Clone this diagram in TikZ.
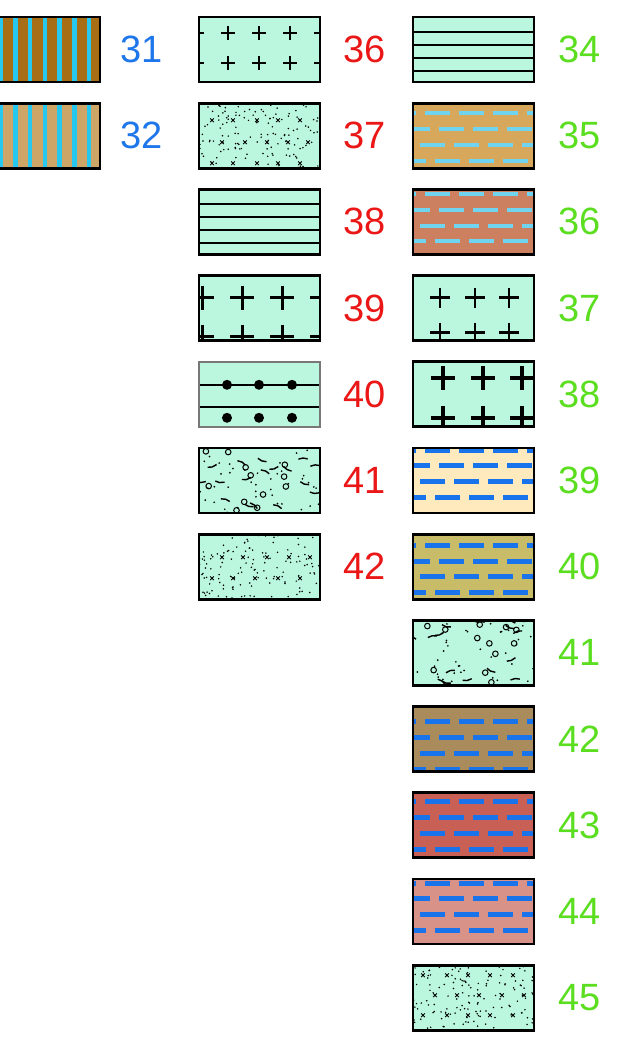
\documentclass[tikz,border=0pt]{standalone}
\usepackage{fontspec}
\setmainfont{Liberation Sans}
\definecolor{mint}{RGB}{186,247,222}
\definecolor{brownA}{RGB}{168,110,22}
\definecolor{tanA}{RGB}{205,165,102}
\definecolor{stripecyan}{RGB}{38,200,240}
\definecolor{tanB}{RGB}{215,168,92}
\definecolor{terra}{RGB}{205,128,95}
\definecolor{cream}{RGB}{255,234,190}
\definecolor{olive}{RGB}{200,188,105}
\definecolor{brownB}{RGB}{170,140,92}
\definecolor{redfill}{RGB}{200,96,86}
\definecolor{pinkfill}{RGB}{216,146,136}
\definecolor{lightdash}{RGB}{112,212,240}
\definecolor{bluedash}{RGB}{25,115,235}
\definecolor{lblblue}{RGB}{30,118,235}
\definecolor{lblred}{RGB}{235,22,22}
\definecolor{lblgreen}{RGB}{92,222,32}
\definecolor{framegray}{RGB}{120,120,120}
\tikzset{
  boxframe/.style={draw=black, line width=2.8pt, minimum width=121pt, minimum height=65pt, inner sep=0pt, outer sep=0pt, anchor=north west},
  lbl/.style={font=\fontsize{38}{40}\selectfont, inner sep=0pt},
  hline/.style={line width=2pt},
  pluslw/.style={line width=#1, line cap=butt},
}
% #1 extra frame style, #2 name, #3 x0, #4 y0, #5 fill, #6 pattern code
\newcommand\lgbox[6][]{%
  \fill[#5] (#3,#4) rectangle ++(121,65);
  \begin{scope}
    \clip (#3,#4) rectangle ++(121,65);
    \begin{scope}[shift={(#3,#4)}]
      #6
    \end{scope}
  \end{scope}
  \node[boxframe,#1] (#2) at (#3,#4) {};
}
% dash rows: #1 first row y, #2 colour, #3 line width
\newcommand\dashrows[3]{%
  \foreach \r/\o in {0/12,1/26,2/7,3/22}{
    \foreach \k in {-1,...,3}{
      \draw[#2, line width=#3] ({\o+34*\k},{#1+15.8*\r}) -- ++(25,0);
    }
  }
}
\newcommand\stripes{%
  \foreach \k in {-1,...,7}{
    \fill[stripecyan] ({21.5+14.75*\k-2.25},-1) rectangle ++(4.5,67);
  }
}
\newcommand\plusmark[3]{% x, y, half arm
  \draw (#1-#3,#2) -- (#1+#3,#2) (#1,#2-#3) -- (#1,#2+#3);
}
\newcommand\xmark[2]{%
  \draw[line width=0.8pt] (#1-1.8,#2-1.8) -- (#1+1.8,#2+1.8) (#1-1.8,#2+1.8) -- (#1+1.8,#2-1.8);
}
\newcommand\randdots[2]{% seed, count
  \pgfmathsetseed{#1}
  \foreach \i in {1,...,#2}{
    \pgfmathsetmacro\px{rnd*123-1}
    \pgfmathsetmacro\py{rnd*67-1}
    \fill (\px,\py) circle[radius=0.85];
  }
}
\newcommand\mixed[1]{% seed
  \pgfmathsetseed{#1}
  \foreach \i in {1,...,12}{
    \pgfmathsetmacro\px{rnd*121}
    \pgfmathsetmacro\py{rnd*65}
    \draw[line width=1pt] (\px,\py) circle[radius=2.8];
  }
  \foreach \i in {1,...,18}{
    \pgfmathsetmacro\px{rnd*121}
    \pgfmathsetmacro\py{rnd*65}
    \pgfmathsetmacro\pa{rnd*70-35+180*round(rnd)}
    \draw[line width=1.4pt] (\px,\py) -- ++(\pa:5) -- ++(\pa+25:4.5);
  }
  \foreach \i in {1,...,40}{
    \pgfmathsetmacro\px{rnd*121}
    \pgfmathsetmacro\py{rnd*65}
    \fill (\px,\py) circle[radius=0.95];
  }
}
\begin{document}
\begin{tikzpicture}[x=1pt,y=-1pt]
\useasboundingbox (0,0) rectangle (631,1037);
\fill[white] (0,0) rectangle (631,1037);

% ---------------- left column ----------------
\lgbox{bL31}{-21}{17}{brownA}{\stripes}
\node[lbl, text=lblblue] (tL31) at (142,49.5) {31};
\lgbox{bL32}{-21}{103.2}{tanA}{\stripes}
\node[lbl, text=lblblue] (tL32) at (142,135.7) {32};

% ---------------- middle column ----------------
\lgbox{bM36}{199}{17}{mint}{%
  \foreach \xx in {-2,29,60,91,122}{\foreach \yy in {16,46}{\begin{scope}[pluslw=2.2pt]\plusmark{\xx}{\yy}{7}\end{scope}}}}
\node[lbl, text=lblred] (tM36) at (364.5,49.5) {36};

\lgbox{bM37}{199}{103.2}{mint}{%
  \randdots{11}{140}
  \foreach \xx in {13,34,58,79,101}{\xmark{\xx}{17}\xmark{\xx}{60}}
  \foreach \xx in {23,46,68,89,109}{\xmark{\xx}{39}}}
\node[lbl, text=lblred] (tM37) at (364.5,135.7) {37};

\lgbox{bM38}{199}{189.4}{mint}{%
  \foreach \yy in {15,28,41,54}{\draw[hline] (-1,\yy) -- (122,\yy);}}
\node[lbl, text=lblred] (tM38) at (364.5,221.9) {38};

\lgbox{bM39}{199}{275.6}{mint}{%
  \foreach \xx in {3,43,83,123}{\foreach \yy in {22,61}{\begin{scope}[pluslw=3pt]\plusmark{\xx}{\yy}{12}\end{scope}}}}
\node[lbl, text=lblred] (tM39) at (364.5,308.1) {39};

\lgbox[draw=framegray, line width=2pt]{bM40}{199}{361.8}{mint}{%
  \draw[line width=1.5pt] (-1,23) -- (122,23) (-1,45) -- (122,45);
  \foreach \xx in {28,60,93}{\fill (\xx,23) circle[radius=5]; \fill (\xx,56) circle[radius=5];}}
\node[lbl, text=lblred] (tM40) at (364.5,394.3) {40};

\lgbox{bM41}{199}{448}{mint}{\mixed{5}}
\node[lbl, text=lblred] (tM41) at (364.5,480.5) {41};

\lgbox{bM42}{199}{534.2}{mint}{%
  \randdots{23}{140}
  \foreach \xx in {23,44,68,90,111}{\xmark{\xx}{23}}
  \foreach \xx in {13,34,56,79,101}{\xmark{\xx}{44}}}
\node[lbl, text=lblred] (tM42) at (364.5,566.7) {42};

% ---------------- right column ----------------
\lgbox{bR34}{413}{17}{mint}{%
  \foreach \yy in {14.5,27.5,41,54}{\draw[hline] (-1,\yy) -- (122,\yy);}}
\node[lbl, text=lblgreen] (tR34) at (579.5,49.5) {34};

\lgbox{bR35}{413}{103.2}{tanB}{\dashrows{10}{lightdash}{4pt}}
\node[lbl, text=lblgreen] (tR35) at (579.5,135.7) {35};

\lgbox{bR36}{413}{189.4}{terra}{\dashrows{4.6}{lightdash}{4pt}}
\node[lbl, text=lblgreen] (tR36) at (579.5,221.9) {36};

\lgbox{bR37}{413}{275.6}{mint}{%
  \foreach \xx in {27,62,96}{\foreach \yy in {22,57}{\begin{scope}[pluslw=2.5pt]\plusmark{\xx}{\yy}{10}\end{scope}}}}
\node[lbl, text=lblgreen] (tR37) at (579.5,308.1) {37};

\lgbox{bR38}{413}{361.8}{mint}{%
  \foreach \xx in {30,70,109}{\foreach \yy in {16,56}{\begin{scope}[pluslw=3.4pt]\plusmark{\xx}{\yy}{12}\end{scope}}}}
\node[lbl, text=lblgreen] (tR38) at (579.5,394.3) {38};

\lgbox{bR39}{413}{448}{cream}{\dashrows{2}{bluedash}{5pt}}
\node[lbl, text=lblgreen] (tR39) at (579.5,480.5) {39};

\lgbox{bR40}{413}{534.2}{olive}{\dashrows{11}{bluedash}{5pt}}
\node[lbl, text=lblgreen] (tR40) at (579.5,566.7) {40};

\lgbox{bR41}{413}{620.4}{mint}{\mixed{17}}
\node[lbl, text=lblgreen] (tR41) at (579.5,652.9) {41};

\lgbox{bR42}{413}{706.6}{brownB}{\dashrows{15}{bluedash}{5pt}}
\node[lbl, text=lblgreen] (tR42) at (579.5,739.1) {42};

\lgbox{bR43}{413}{792.8}{redfill}{\dashrows{9}{bluedash}{5pt}}
\node[lbl, text=lblgreen] (tR43) at (579.5,825.3) {43};

\lgbox{bR44}{413}{879}{pinkfill}{\dashrows{4}{bluedash}{5pt}}
\node[lbl, text=lblgreen] (tR44) at (579.5,911.5) {44};

\lgbox{bR45}{413}{965.2}{mint}{%
  \randdots{31}{140}
  \foreach \xx in {10,34,55,77,100}{\xmark{\xx}{10}\xmark{\xx}{50}}
  \foreach \xx in {22,44,66,89,111}{\xmark{\xx}{30}}}
\node[lbl, text=lblgreen] (tR45) at (579.5,997.7) {45};
\end{tikzpicture}
\end{document}
